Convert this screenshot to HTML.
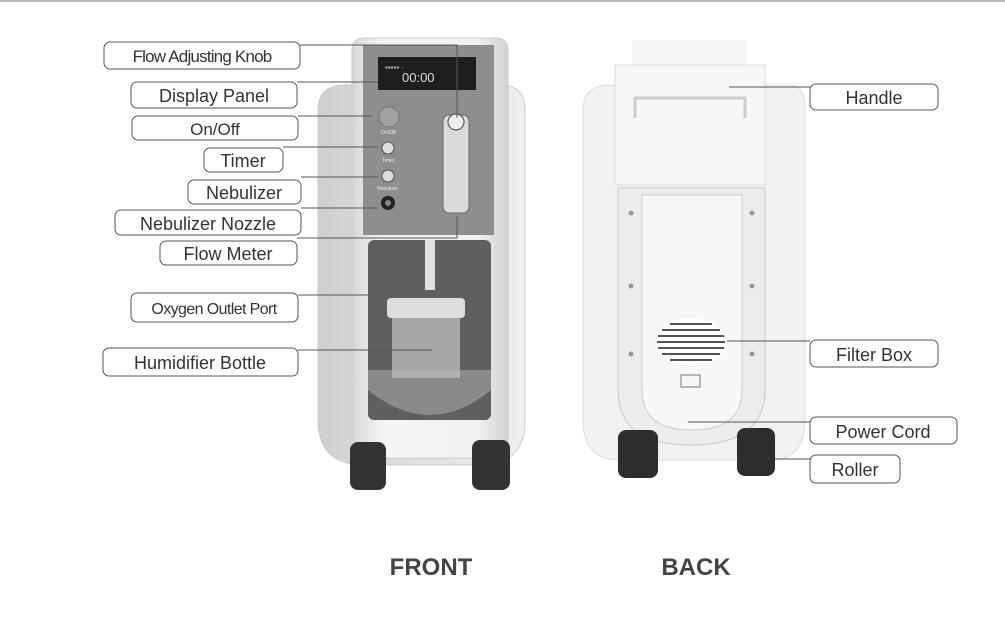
<!DOCTYPE html>
<html><head><meta charset="utf-8"><style>
html,body{margin:0;padding:0;background:#fff;}
svg{display:block;font-family:"Liberation Sans",sans-serif;}
</style></head><body>
<svg width="1005" height="624" viewBox="0 0 1005 624" xmlns="http://www.w3.org/2000/svg">
<defs>
<linearGradient id="bodyg" x1="0" x2="1"><stop offset="0" stop-color="#d8d8d8"/><stop offset="0.2" stop-color="#f4f4f4"/><stop offset="0.8" stop-color="#f2f2f2"/><stop offset="1" stop-color="#d0d0d0"/></linearGradient>
<linearGradient id="wing" x1="0" x2="1"><stop offset="0" stop-color="#cfcfcf"/><stop offset="1" stop-color="#f0f0f0"/></linearGradient>
</defs>
<rect width="1005" height="624" fill="#fff"/>
<line x1="0" y1="1" x2="1005" y2="1" stroke="#bbb" stroke-width="2"/>

<!-- FRONT device -->
<path d="M318 110 Q318 85 345 85 L500 85 Q525 85 525 110 L525 420 Q525 465 480 465 L365 465 Q318 465 318 420 Z" fill="url(#wing)" stroke="#ccc"/>
<path d="M352 50 Q352 38 365 38 L495 38 Q508 38 508 50 L508 440 Q508 458 490 458 L370 458 Q352 458 352 440 Z" fill="url(#bodyg)" stroke="#ccc"/>
<rect x="363" y="45" width="131" height="190" fill="#8e8e8e"/>
<rect x="378" y="57" width="98" height="33" fill="#1e1e1e"/>
<text x="385" y="70" font-size="8" fill="#bbb">▪▪▪▪▪ ·</text>
<text x="402" y="82" font-size="13" fill="#ddd">00:00</text>
<circle cx="389" cy="117" r="10" fill="#a2a2a2" stroke="#777"/>
<text x="381" y="134" font-size="5" fill="#eee">On/Off</text>
<circle cx="388" cy="148" r="6" fill="#ddd" stroke="#555"/>
<text x="382" y="162" font-size="5" fill="#eee">Timer</text>
<circle cx="388" cy="176" r="6" fill="#ddd" stroke="#555"/>
<text x="377" y="190" font-size="5" fill="#eee">Nebulizer</text>
<circle cx="388" cy="203" r="7" fill="#222"/>
<circle cx="388" cy="203" r="3" fill="#888"/>
<rect x="443" y="115" width="26" height="98" rx="6" fill="#d9d9d9" stroke="#666"/>
<circle cx="456" cy="122" r="8" fill="#eee" stroke="#444"/>
<rect x="368" y="240" width="123" height="180" rx="6" fill="#5f5f5f"/>
<path d="M368 370 L491 370 L491 390 Q430 440 368 390 Z" fill="#8a8a8a"/>
<rect x="425" y="240" width="10" height="50" fill="#e0e0e0"/>
<rect x="387" y="298" width="78" height="20" rx="4" fill="#ddd"/>
<rect x="392" y="318" width="68" height="60" fill="#b9b9b9" opacity="0.8"/>
<rect x="350" y="442" width="36" height="48" rx="8" fill="#333"/>
<rect x="472" y="440" width="38" height="50" rx="8" fill="#333"/>

<!-- BACK device -->
<path d="M583 110 Q583 85 610 85 L790 85 Q805 85 805 110 L805 420 Q805 460 770 460 L620 460 Q583 460 583 420 Z" fill="#f1f1f1" stroke="#ddd"/>
<rect x="632" y="40" width="115" height="30" fill="#f6f6f6"/>
<rect x="615" y="65" width="150" height="120" fill="#f7f7f7" stroke="#ddd"/>
<path d="M635 118 L635 98 L745 98 L745 118" fill="none" stroke="#ccc" stroke-width="3"/>
<path d="M618 188 L765 188 L765 390 Q765 445 690 445 Q618 445 618 390 Z" fill="#ececec" stroke="#c9c9c9"/>
<path d="M642 195 L742 195 L742 390 Q742 430 692 430 Q642 430 642 390 Z" fill="#f7f7f7" stroke="#ccc"/>
<g fill="#999"><circle cx="631" cy="213" r="2.5"/><circle cx="752" cy="213" r="2.5"/><circle cx="631" cy="286" r="2.5"/><circle cx="752" cy="286" r="2.5"/><circle cx="631" cy="354" r="2.5"/><circle cx="752" cy="354" r="2.5"/></g>
<ellipse cx="691" cy="342" rx="35" ry="24" fill="#fff"/>
<g stroke="#555" stroke-width="2">
<line x1="670" y1="324" x2="712" y2="324"/><line x1="662" y1="330" x2="720" y2="330"/><line x1="658" y1="336" x2="724" y2="336"/><line x1="657" y1="342" x2="725" y2="342"/><line x1="658" y1="348" x2="724" y2="348"/><line x1="662" y1="354" x2="720" y2="354"/><line x1="670" y1="360" x2="712" y2="360"/></g>
<rect x="681" y="375" width="19" height="12" fill="none" stroke="#777"/>
<rect x="618" y="430" width="40" height="48" rx="8" fill="#2d2d2d"/>
<rect x="737" y="428" width="38" height="48" rx="8" fill="#2d2d2d"/>

<!-- leader lines -->
<g stroke="#555" stroke-width="1" fill="none">
<path d="M300 45 L457 45 L457 118"/>
<line x1="297" y1="82" x2="378" y2="82"/>
<line x1="298" y1="116" x2="372" y2="116"/>
<line x1="283" y1="147" x2="378" y2="147"/>
<line x1="301" y1="177" x2="378" y2="177"/>
<line x1="301" y1="208" x2="378" y2="208"/>
<path d="M297 238 L457 238 L457 216"/>
<line x1="298" y1="295" x2="368" y2="295"/>
<line x1="298" y1="350" x2="432" y2="350"/>
<line x1="729" y1="87" x2="810" y2="87"/>
<line x1="727" y1="341" x2="810" y2="341"/>
<line x1="688" y1="422" x2="810" y2="422"/>
<line x1="775" y1="459" x2="810" y2="459"/>
</g>

<!-- labels -->
<g fill="#fff" stroke="#555" stroke-width="1">
<rect x="104" y="42" width="196" height="27" rx="6"/>
<rect x="131" y="82" width="166" height="26" rx="6"/>
<rect x="132" y="116" width="166" height="24" rx="6"/>
<rect x="204" y="148" width="79" height="24" rx="6"/>
<rect x="188" y="180" width="113" height="24" rx="6"/>
<rect x="115" y="210" width="186" height="25" rx="6"/>
<rect x="160" y="241" width="137" height="24" rx="6"/>
<rect x="131" y="293" width="167" height="29" rx="6"/>
<rect x="103" y="348" width="195" height="28" rx="6"/>
<rect x="810" y="84" width="128" height="26" rx="6"/>
<rect x="810" y="340" width="128" height="27" rx="6"/>
<rect x="810" y="417" width="147" height="27" rx="6"/>
<rect x="810" y="455" width="90" height="28" rx="6"/>
</g>
<g fill="#333" font-size="18" text-anchor="middle">
<text x="202" y="62" font-size="17" letter-spacing="-0.8">Flow Adjusting Knob</text>
<text x="214" y="102">Display Panel</text>
<text x="215" y="135" font-size="17">On/Off</text>
<text x="243" y="167">Timer</text>
<text x="244" y="199">Nebulizer</text>
<text x="208" y="230">Nebulizer Nozzle</text>
<text x="228" y="260">Flow Meter</text>
<text x="214" y="314" font-size="16" letter-spacing="-0.6">Oxygen Outlet Port</text>
<text x="200" y="369">Humidifier Bottle</text>
<text x="874" y="104">Handle</text>
<text x="874" y="361">Filter Box</text>
<text x="883" y="438">Power Cord</text>
<text x="855" y="476">Roller</text>
</g>
<g fill="#444" font-size="24" font-weight="bold" text-anchor="middle">
<text x="431" y="575">FRONT</text>
<text x="696" y="575">BACK</text>
</g>
</svg>
</body></html>
